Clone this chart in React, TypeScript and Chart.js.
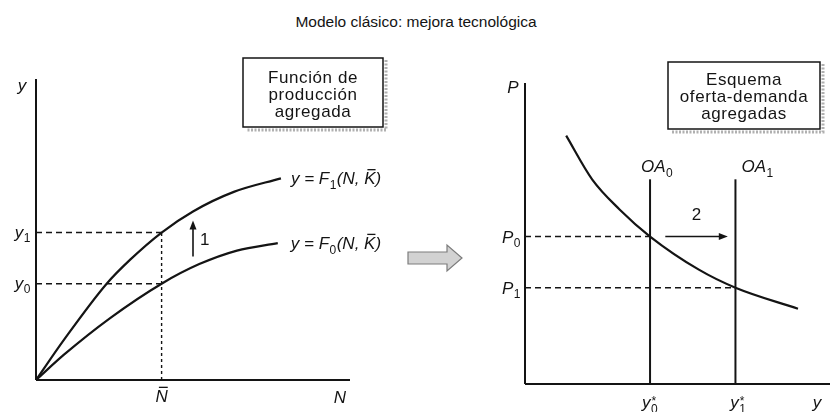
import React, { useEffect, useRef } from "react";
import { Chart, registerables } from "chart.js";
Chart.register(...registerables);

const INK = "#141414";
const FONT = '"Liberation Sans", Arial, Helvetica, sans-serif';

const TITLE = "Modelo clásico: mejora tecnológica";
const AXIS_MAX = 10;

// ---- left panel: aggregate production function ----
const F1_N = [0, 0.9, 2.25, 3.0, 4.0, 5.0, 6.3, 7.8];
const F1_Y = [0, 1.35, 3.2, 4.0, 4.9, 5.6, 6.25, 6.7];
const F0_N = [0, 0.9, 2.35, 4.0, 5.2, 6.4, 7.7];
const F0_Y = [0, 0.85, 2.05, 3.2, 3.85, 4.3, 4.55];
const N_BAR = 4.0;
const Y1 = 4.9;
const Y0 = 3.2;
const ARROW1 = [5.0, 4.1, 5.3]; // x, from y, to y
const LEFT_BOX = ["Función de", "producción", "agregada"];

// ---- right panel: aggregate supply-demand ----
const AD_Y = [1.35, 2.2, 3.1, 4.1, 5.7, 6.9, 8.95];
const AD_P = [8.25, 6.8, 5.8, 4.9, 3.8, 3.2, 2.5];
const OA0 = 4.1;
const OA1 = 6.9;
const OA_TOP = 6.8;
const P0 = 4.9;
const P1 = 3.2;
const ARROW2 = [4.6, 6.65, 4.9]; // from x, to x, at P
const RIGHT_BOX = ["Esquema", "oferta-demanda", "agregadas"];

type Run = { t: string; sub?: boolean; sup?: string; bar?: boolean; up?: boolean };

const fontOf = (size: number, italic: boolean) =>
  `${italic ? "italic " : ""}${size}px ${FONT}`;

function drawRuns(
  ctx: CanvasRenderingContext2D,
  runs: Run[],
  x: number,
  base: number,
  align: "left" | "center" | "right",
  size = 17
) {
  const small = Math.round(size * 0.7);
  const widths = runs.map((r) => {
    if (r.sub) {
      ctx.font = fontOf(small, false);
      let w = ctx.measureText(r.t).width;
      if (r.sup) w = Math.max(w, ctx.measureText(r.sup).width);
      return w + 1;
    }
    ctx.font = fontOf(size, !r.up);
    return ctx.measureText(r.t).width;
  });
  const total = widths.reduce((a, b) => a + b, 0);
  let cx = align === "left" ? x : align === "right" ? x - total : x - total / 2;
  ctx.textAlign = "left";
  ctx.textBaseline = "alphabetic";
  runs.forEach((r, i) => {
    if (r.sub) {
      ctx.font = fontOf(small, false);
      ctx.fillText(r.t, cx + 0.5, base + size * 0.28);
      if (r.sup) ctx.fillText(r.sup, cx + 1, base - size * 0.18);
    } else {
      ctx.font = fontOf(size, !r.up);
      ctx.fillText(r.t, cx, base);
      if (r.bar) {
        const w = widths[i];
        ctx.fillRect(cx + w * 0.28, base - size * 0.9, w * 0.72, 1.3);
      }
    }
    cx += widths[i];
  });
}

function arrow(
  ctx: CanvasRenderingContext2D,
  x1: number,
  y1: number,
  x2: number,
  y2: number,
  head = 9,
  half = 3.5
) {
  const a = Math.atan2(y2 - y1, x2 - x1);
  const c = Math.cos(a);
  const s = Math.sin(a);
  ctx.lineWidth = 1.6;
  ctx.setLineDash([]);
  ctx.beginPath();
  ctx.moveTo(x1, y1);
  ctx.lineTo(x2 - c * head * 0.8, y2 - s * head * 0.8);
  ctx.stroke();
  ctx.beginPath();
  ctx.moveTo(x2, y2);
  ctx.lineTo(x2 - c * head - s * half, y2 - s * head + c * half);
  ctx.lineTo(x2 - c * head + s * half, y2 - s * head - c * half);
  ctx.closePath();
  ctx.fill();
}

function box(
  ctx: CanvasRenderingContext2D,
  x: number,
  y: number,
  w: number,
  h: number,
  lines: string[],
  firstBase: number,
  step: number
) {
  ctx.save();
  ctx.strokeStyle = "#b0b0b0";
  ctx.lineWidth = 3;
  ctx.setLineDash([2, 1.5]);
  ctx.beginPath();
  ctx.moveTo(x + w + 3, y + 2);
  ctx.lineTo(x + w + 3, y + h + 3);
  ctx.lineTo(x + 3, y + h + 3);
  ctx.stroke();
  ctx.restore();
  ctx.setLineDash([]);
  ctx.lineWidth = 1.5;
  ctx.strokeRect(x, y, w, h);
  ctx.font = `17px ${FONT}`;
  (ctx as any).letterSpacing = "0.6px";
  ctx.textAlign = "center";
  ctx.textBaseline = "alphabetic";
  lines.forEach((l, i) => ctx.fillText(l, x + w / 2, y + firstBase + i * step));
  (ctx as any).letterSpacing = "0px";
}

const pts = (xs: number[], ys: number[]) => xs.map((v, i) => ({ x: v, y: ys[i] }));

const lineDs = (data: { x: number; y: number }[], extra: any = {}) => ({
  data,
  showLine: true,
  borderColor: INK,
  backgroundColor: INK,
  borderWidth: 2,
  pointRadius: 0,
  pointHoverRadius: 0,
  fill: false,
  clip: false as any,
  ...extra,
});

const baseOptions = (padding: any) => ({
  animation: false as const,
  responsive: false,
  maintainAspectRatio: false,
  events: [] as any[],
  layout: { padding },
  scales: {
    x: { type: "linear" as const, min: 0, max: AXIS_MAX, display: false },
    y: { type: "linear" as const, min: 0, max: AXIS_MAX, display: false },
  },
  plugins: { legend: { display: false }, tooltip: { enabled: false }, title: { display: false } },
});

const leftDeco = {
  id: "leftDeco",
  afterDatasetsDraw(chart: any) {
    const { ctx } = chart;
    const xs = chart.scales.x;
    const ys = chart.scales.y;
    const X = (v: number) => xs.getPixelForValue(v);
    const Y = (v: number) => ys.getPixelForValue(v);
    ctx.save();
    ctx.fillStyle = INK;
    ctx.strokeStyle = INK;

    drawRuns(ctx, [{ t: "y" }], X(0) - 14, Y(AXIS_MAX) + 12, "center");
    drawRuns(ctx, [{ t: "y" }, { t: "1", sub: true }], X(0) - 5, Y(Y1) + 5, "right");
    drawRuns(ctx, [{ t: "y" }, { t: "0", sub: true }], X(0) - 5, Y(Y0) + 5, "right");
    drawRuns(ctx, [{ t: "N", bar: true }], X(N_BAR), Y(0) + 22, "center");
    drawRuns(ctx, [{ t: "N" }], X(AXIS_MAX) - 10, Y(0) + 23, "center");

    const e1 = F1_N.length - 1;
    drawRuns(
      ctx,
      [{ t: "y = F" }, { t: "1", sub: true }, { t: "(N, " }, { t: "K", bar: true }, { t: ")" }],
      X(F1_N[e1]) + 10,
      Y(F1_Y[e1]) + 6,
      "left"
    );
    const e0 = F0_N.length - 1;
    drawRuns(
      ctx,
      [{ t: "y = F" }, { t: "0", sub: true }, { t: "(N, " }, { t: "K", bar: true }, { t: ")" }],
      X(F0_N[e0]) + 13,
      Y(F0_Y[e0]) + 6,
      "left"
    );

    arrow(ctx, X(ARROW1[0]), Y(ARROW1[1]), X(ARROW1[0]), Y(ARROW1[2]));
    drawRuns(ctx, [{ t: "1", up: true }], X(ARROW1[0]) + 7, (Y(ARROW1[1]) + Y(ARROW1[2])) / 2 + 6, "left");

    box(ctx, 243, 58, 140, 69, LEFT_BOX, 25, 17);

    // transition arrow between the two panels
    ctx.beginPath();
    ctx.moveTo(408, 252);
    ctx.lineTo(447, 252);
    ctx.lineTo(447, 245);
    ctx.lineTo(462, 258);
    ctx.lineTo(447, 271);
    ctx.lineTo(447, 264);
    ctx.lineTo(408, 264);
    ctx.closePath();
    ctx.fillStyle = "#d2d2d2";
    ctx.fill();
    ctx.strokeStyle = "#7c7c7c";
    ctx.lineWidth = 1.2;
    ctx.setLineDash([]);
    ctx.stroke();
    ctx.restore();
  },
};

const rightDeco = {
  id: "rightDeco",
  afterDatasetsDraw(chart: any) {
    const { ctx } = chart;
    const xs = chart.scales.x;
    const ys = chart.scales.y;
    const X = (v: number) => xs.getPixelForValue(v);
    const Y = (v: number) => ys.getPixelForValue(v);
    ctx.save();
    ctx.fillStyle = INK;
    ctx.strokeStyle = INK;

    drawRuns(ctx, [{ t: "P" }], X(0) - 12, Y(AXIS_MAX) + 10, "center");
    drawRuns(ctx, [{ t: "P" }, { t: "0", sub: true }], X(0) - 4, Y(P0) + 6, "right");
    drawRuns(ctx, [{ t: "P" }, { t: "1", sub: true }], X(0) - 4, Y(P1) + 6, "right");
    drawRuns(ctx, [{ t: "OA" }, { t: "0", sub: true }], X(OA0) - 9, Y(OA_TOP) - 7, "left");
    drawRuns(ctx, [{ t: "OA" }, { t: "1", sub: true }], X(OA1) + 6, Y(OA_TOP) - 7, "left");

    arrow(ctx, X(ARROW2[0]), Y(ARROW2[2]), X(ARROW2[1]), Y(ARROW2[2]));
    drawRuns(ctx, [{ t: "2", up: true }], (X(ARROW2[0]) + X(ARROW2[1])) / 2, Y(ARROW2[2]) - 17, "center");

    drawRuns(ctx, [{ t: "y" }, { t: "0", sub: true, sup: "*" }], X(OA0), Y(0) + 24, "center");
    drawRuns(ctx, [{ t: "y" }, { t: "1", sub: true, sup: "*" }], X(OA1) + 3, Y(0) + 24, "center");
    drawRuns(ctx, [{ t: "y" }], X(AXIS_MAX) - 13, Y(0) + 24, "center");

    // box positioned in canvas coordinates (canvas starts at page x = 480)
    box(ctx, 668 - 480, 62, 152, 67, RIGHT_BOX, 23, 17);
    ctx.restore();
  },
};

function leftConfig(): any {
  const dash = { borderWidth: 1.4, borderDash: [6, 4] };
  return {
    type: "scatter",
    data: {
      datasets: [
        lineDs(pts(F1_N, F1_Y), { cubicInterpolationMode: "monotone", borderWidth: 2.2 }),
        lineDs(pts(F0_N, F0_Y), { cubicInterpolationMode: "monotone", borderWidth: 2.2 }),
        lineDs([{ x: 0, y: 0 }, { x: 0, y: AXIS_MAX }]),
        lineDs([{ x: 0, y: 0 }, { x: AXIS_MAX, y: 0 }]),
        lineDs([{ x: 0, y: Y1 }, { x: N_BAR, y: Y1 }], dash),
        lineDs([{ x: 0, y: Y0 }, { x: N_BAR, y: Y0 }], dash),
        lineDs([{ x: N_BAR, y: 0 }, { x: N_BAR, y: Y1 }], { borderWidth: 1.4, borderDash: [3, 3] }),
      ],
    },
    options: baseOptions({ left: 36, right: 130, top: 79, bottom: 32 }),
    plugins: [leftDeco],
  };
}

function rightConfig(): any {
  const dash = { borderWidth: 1.4, borderDash: [6, 4] };
  return {
    type: "scatter",
    data: {
      datasets: [
        lineDs(pts(AD_Y, AD_P), { cubicInterpolationMode: "monotone", borderWidth: 2.2 }),
        lineDs([{ x: OA0, y: 0 }, { x: OA0, y: OA_TOP }]),
        lineDs([{ x: OA1, y: 0 }, { x: OA1, y: OA_TOP }]),
        lineDs([{ x: 0, y: 0 }, { x: 0, y: AXIS_MAX }]),
        lineDs([{ x: 0, y: 0 }, { x: AXIS_MAX, y: 0 }]),
        lineDs([{ x: 0, y: P0 }, { x: OA0, y: P0 }], dash),
        lineDs([{ x: 0, y: P1 }, { x: OA1, y: P1 }], dash),
      ],
    },
    options: baseOptions({ left: 45, right: 0, top: 83, bottom: 28 }),
    plugins: [rightDeco],
  };
}

export default function App() {
  const leftRef = useRef<HTMLCanvasElement>(null);
  const rightRef = useRef<HTMLCanvasElement>(null);
  useEffect(() => {
    const a = new Chart(leftRef.current as HTMLCanvasElement, leftConfig());
    const b = new Chart(rightRef.current as HTMLCanvasElement, rightConfig());
    return () => {
      a.destroy();
      b.destroy();
    };
  }, []);
  return (
    <div
      style={{
        position: "fixed",
        left: 0,
        top: 0,
        width: 830,
        height: 412,
        background: "#ffffff",
        overflow: "hidden",
      }}
    >
      <div
        style={{
          position: "absolute",
          left: 0,
          top: 14,
          width: 832,
          textAlign: "center",
          font: `15.5px ${FONT}`,
          lineHeight: "15px",
          color: INK,
          whiteSpace: "nowrap",
        }}
      >
        {TITLE}
      </div>
      <canvas
        ref={leftRef}
        width={480}
        height={412}
        style={{ position: "absolute", left: 0, top: 0, width: 480, height: 412 }}
      />
      <canvas
        ref={rightRef}
        width={350}
        height={412}
        style={{ position: "absolute", left: 480, top: 0, width: 350, height: 412 }}
      />
    </div>
  );
}
